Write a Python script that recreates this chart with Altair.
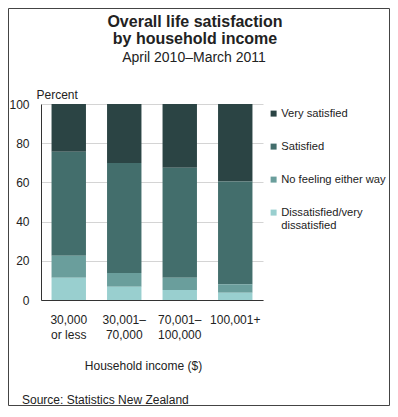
import altair as alt
import pandas as pd

title_lines = ["Overall life satisfaction", "by household income"]
subtitle = ["April 2010–March 2011"]
categories = ["30,000|or less", "30,001–|70,000", "70,001–|100,000", "100,001+"]
levels = ["Very satisfied", "Satisfied", "No feeling either way", "Dissatisfied/very dissatisfied"]
very_satisfied = [24.4, 30.1, 32.5, 39.6]
satisfied = [53.0, 56.1, 56.1, 52.4]
no_feeling = [11.2, 7.0, 6.3, 4.3]
dissatisfied = [11.4, 6.8, 5.1, 3.7]
colors = ["#2b4444", "#436e6c", "#6a9e9c", "#99cfcf"]
y_ticks = [0, 20, 40, 60, 80, 100]
source = ["Source: Statistics New Zealand"]

series = [very_satisfied, satisfied, no_feeling, dissatisfied]
rows = []
for li, (lev, vals) in enumerate(zip(levels, series)):
    for cat, v in zip(categories, vals):
        rows.append({"income": cat, "level": lev, "value": v, "rank": len(levels) - li})
df = pd.DataFrame(rows)

W, H = 222, 196
PL, PT, PR, PB = 33, 96, 127, 106
TEXT = "#222222"

bars = alt.Chart(df).mark_bar().encode(
    x=alt.X(
        "income:N",
        sort=categories,
        scale=alt.Scale(paddingInner=0.38, paddingOuter=0.19),
        axis=alt.Axis(
            title="Household income ($)",
            labelExpr="split(datum.label, '|')",
            labelAngle=0,
            labelBaseline="top",
            labelPadding=14,
            labelLineHeight=15,
            ticks=False,
            domainColor="#333333",
            titleX=102,
            titleY=69,
            titleBaseline="alphabetic",
            titleFontWeight="normal",
        ),
    ),
    y=alt.Y(
        "value:Q",
        stack="zero",
        scale=alt.Scale(domain=[0, 100]),
        axis=alt.Axis(
            values=y_ticks,
            title="Percent",
            titleAngle=0,
            titleAlign="left",
            titleX=-5,
            titleY=-6,
            titleBaseline="alphabetic",
            titleFontWeight="normal",
            ticks=False,
            labelPadding=12,
            gridColor="#d4d4d4",
            domainColor="#333333",
        ),
    ),
    color=alt.Color(
        "level:N",
        scale=alt.Scale(domain=levels, range=colors),
        legend=alt.Legend(
            title=None,
            orient="none",
            legendX=227,
            legendY=4,
            padding=0,
            symbolType="square",
            symbolSize=36,
            symbolStrokeWidth=0,
            labelFontSize=11.2,
            labelColor=TEXT,
            rowPadding=21,
            labelOffset=2,
            labelLimit=200,
            labelBaseline="middle",
            labelExpr="datum.label == 'Dissatisfied/very dissatisfied' ? ['Dissatisfied/very', 'dissatisfied'] : datum.label",
        ),
    ),
    order=alt.Order("rank:Q"),
)

title_df = pd.DataFrame({"t": title_lines, "i": list(range(len(title_lines)))})
title_mark = alt.Chart(title_df).mark_text(
    align="center", baseline="alphabetic", fontSize=16, fontWeight="bold", color=TEXT
).encode(
    text="t:N",
    x=alt.value(154),
    y=alt.Y("i:Q", scale=alt.Scale(domain=[0, 1], range=[-77, -60]), axis=None),
)

sub_mark = alt.Chart(pd.DataFrame({"t": subtitle})).mark_text(
    align="center", baseline="alphabetic", fontSize=14, color=TEXT
).encode(text="t:N", x=alt.value(153), y=alt.value(-42))

src = alt.Chart(pd.DataFrame({"t": source})).mark_text(
    align="left", baseline="alphabetic", fontSize=12, color=TEXT
).encode(text="t:N", x=alt.value(-19), y=alt.value(300))

frame = alt.Chart(pd.DataFrame({"a": [0]})).mark_rect(
    fillOpacity=0, stroke="#444444", strokeWidth=1
).encode(
    x=alt.value(-PL + 0.5),
    x2=alt.value(W + PR - 0.5),
    y=alt.value(-PT + 0.5),
    y2=alt.value(H + PB - 0.5),
)

chart = alt.layer(bars, title_mark, sub_mark, src, frame).resolve_scale(
    y="independent"
).properties(
    width=W,
    height=H,
    autosize=alt.AutoSizeParams(type="none"),
    padding={"left": PL, "top": PT, "right": PR, "bottom": PB},
).configure(
    font="Liberation Sans"
).configure_axis(
    labelFontSize=12,
    titleFontSize=12,
    labelColor=TEXT,
    titleColor=TEXT,
).configure_view(stroke=None)

chart.save("out.html", embed_options={"renderer": "svg", "actions": False})
